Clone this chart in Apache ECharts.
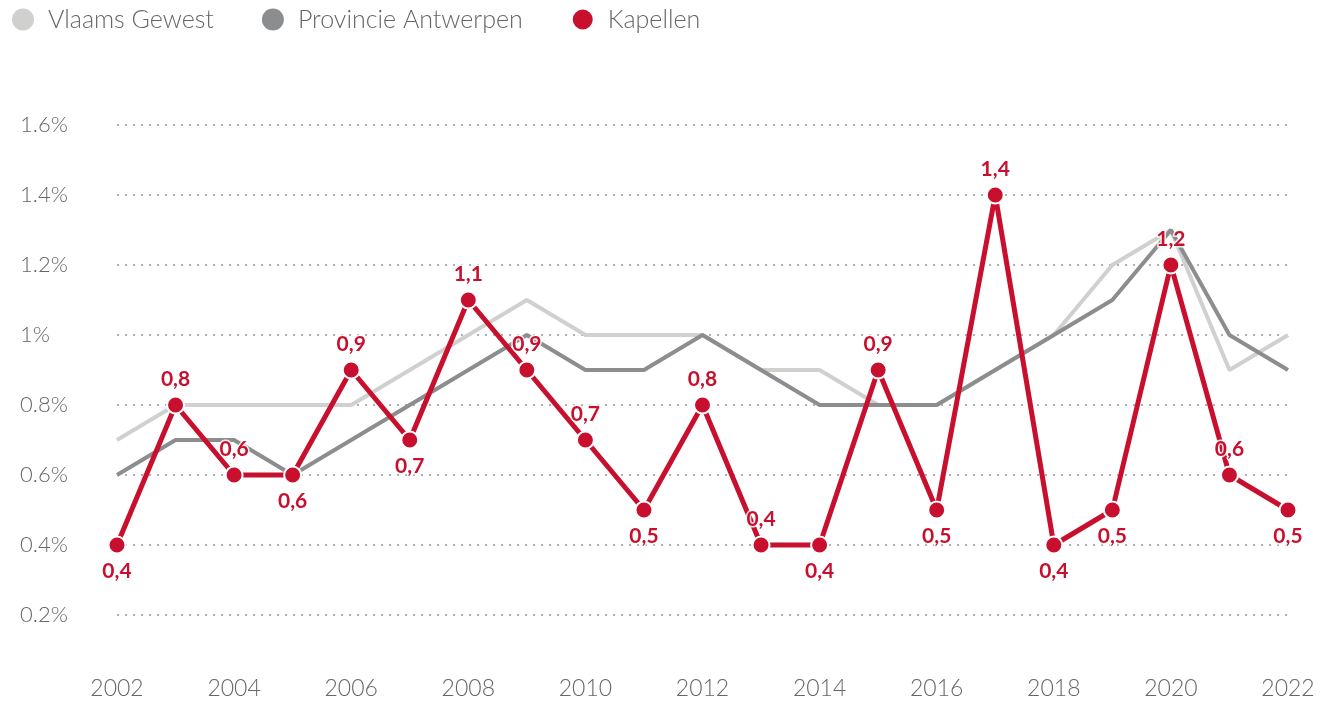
<!DOCTYPE html>
<html>
<head>
<meta charset="utf-8">
<script src="https://cdn.jsdelivr.net/npm/echarts@6/dist/echarts.min.js"></script>
<style>
  html, body { margin: 0; padding: 0; background: #fff; }
  #chart { width: 1330px; height: 706px; }
</style>
</head>
<body>
<div id="chart"></div>
<script>
const years = ['2002','2003','2004','2005','2006','2007','2008','2009','2010','2011','2012',
  '2013','2014','2015','2016','2017','2018','2019','2020','2021','2022'];
const vlaamsGewest = [0.7,0.8,0.8,0.8,0.8,0.9,1.0,1.1,1.0,1.0,1.0,0.9,0.9,0.8,0.8,0.9,1.0,1.2,1.3,0.9,1.0];
const provAntwerpen = [0.6,0.7,0.7,0.6,0.7,0.8,0.9,1.0,0.9,0.9,1.0,0.9,0.8,0.8,0.8,0.9,1.0,1.1,1.3,1.0,0.9];
const kapellen = [0.4,0.8,0.6,0.6,0.9,0.7,1.1,0.9,0.7,0.5,0.8,0.4,0.4,0.9,0.5,1.4,0.4,0.5,1.2,0.6,0.5];
// where the Kapellen value label sits
const labelPos = ['bottom','top','top','bottom','top','bottom','top','top','top','bottom','top',
  'top','bottom','top','bottom','top','bottom','bottom','top','top','bottom'];

const RED = '#c8102e';
const font = 'Lato';

const chart = echarts.init(document.getElementById('chart'), null, { renderer: 'canvas' });

const kapData = kapellen.map((v, i) => ({
  value: v,
  label: { position: labelPos[i] }
}));

chart.setOption({
  animation: false,
  textStyle: { fontFamily: font },
  legend: {
    left: 7,
    top: 2,
    icon: 'circle',
    itemWidth: 22,
    itemHeight: 22,
    itemGap: 48,
    textStyle: { color: '#666', fontSize: 25, fontWeight: 300, fontFamily: font, padding: [0, 0, 0, 9] },
    data: ['Vlaams Gewest', 'Provincie Antwerpen', 'Kapellen']
  },
  grid: { left: 117, right: 42, top: 125, bottom: 91 },
  xAxis: {
    type: 'category',
    boundaryGap: false,
    data: years,
    axisLine: { show: false },
    axisTick: { show: false },
    axisLabel: { interval: 1, margin: 62, color: '#666', fontSize: 23, fontWeight: 300, fontFamily: font }
  },
  yAxis: {
    type: 'value',
    min: 0.2,
    max: 1.6,
    interval: 0.2,
    axisLine: { show: false },
    axisTick: { show: false },
    axisLabel: {
      align: 'left',
      margin: 97,
      color: '#666',
      fontSize: 22,
      fontWeight: 300,
      fontFamily: font,
      formatter: v => (+v.toFixed(1)) + '%'
    },
    splitLine: { lineStyle: { color: '#b0b0b0', width: 2, type: [2, 6] } }
  },
  series: [
    {
      name: 'Vlaams Gewest',
      type: 'line',
      data: vlaamsGewest,
      symbol: 'none',
      color: '#d0d0cf',
      lineStyle: { width: 4, color: '#d0d0cf' },
      z: 1
    },
    {
      name: 'Provincie Antwerpen',
      type: 'line',
      data: provAntwerpen,
      symbol: 'none',
      color: '#8b8d8f',
      lineStyle: { width: 4, color: '#8b8d8f' },
      z: 2
    },
    {
      name: 'Kapellen',
      type: 'line',
      data: kapData,
      symbol: 'circle',
      symbolSize: 17,
      color: RED,
      itemStyle: { color: RED, borderColor: '#fff', borderWidth: 2 },
      lineStyle: { width: 5, color: RED },
      label: {
        show: true,
        distance: 6,
        color: RED,
        fontSize: 21,
        fontWeight: 'bold',
        fontFamily: font,
        textBorderColor: 'rgba(255,255,255,0.85)',
        textBorderWidth: 3,
        formatter: p => String(p.value).replace('.', ',')
      },
      z: 3
    }
  ]
});
</script>
</body>
</html>
